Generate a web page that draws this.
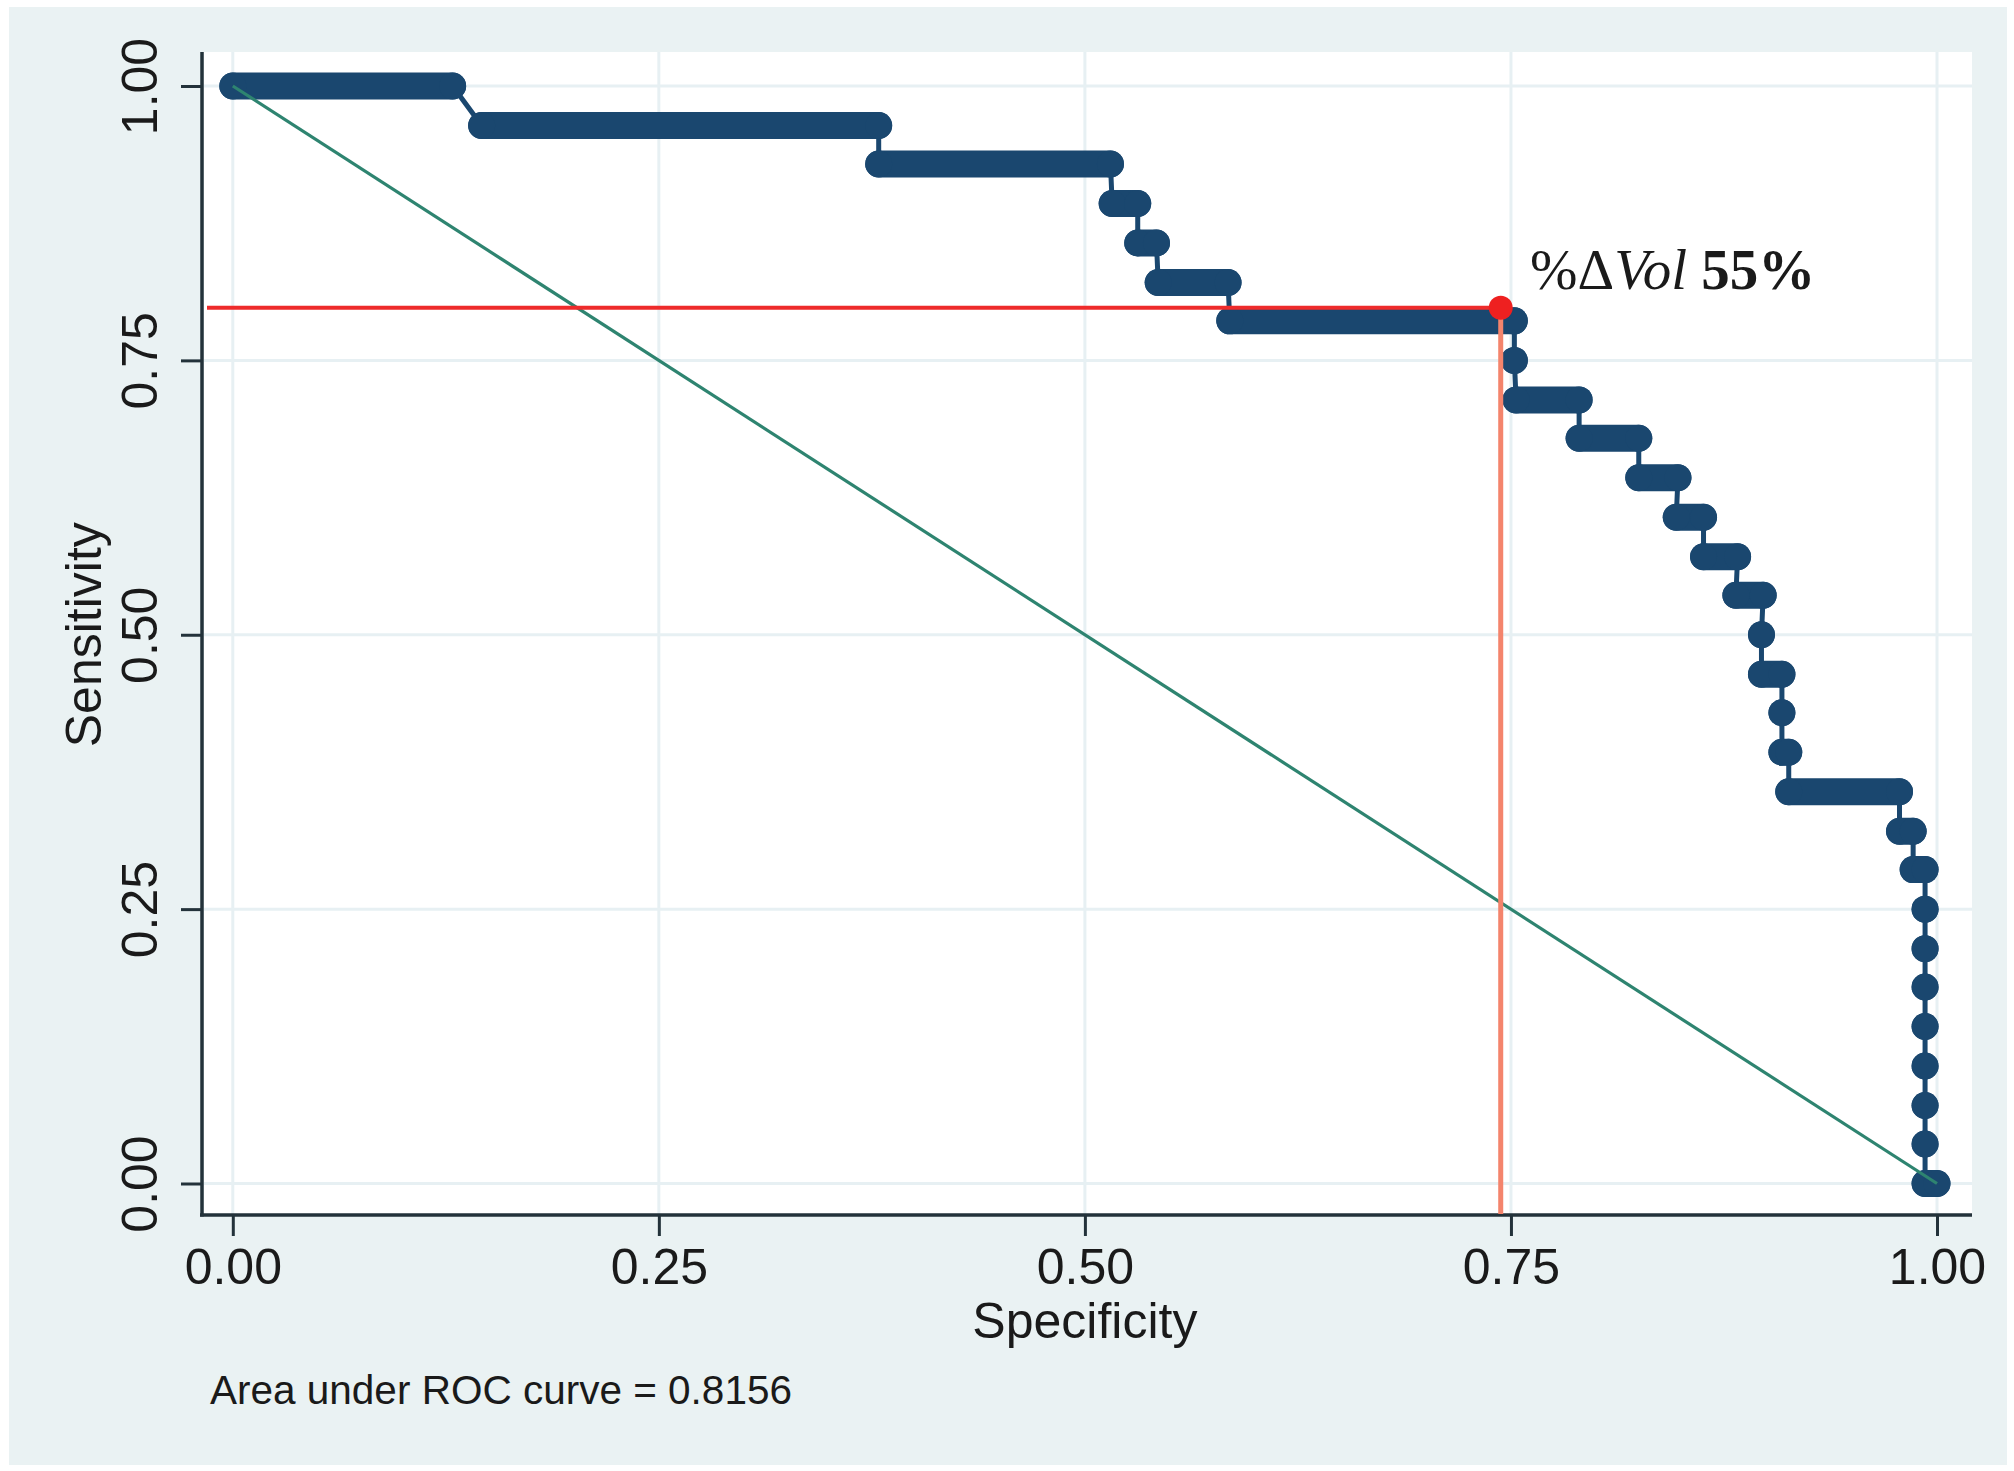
<!DOCTYPE html>
<html>
<head>
<meta charset="utf-8">
<script src="https://cdn.jsdelivr.net/npm/d3@7"></script>
<style>
  html, body { margin: 0; padding: 0; background: #ffffff; }
  svg { display: block; }
</style>
</head>
<body>
<div id="graphContainer"></div>
<script>
// ROC steps: one entry per sensitivity level,
// with the specificity where the run of markers starts and ends
const sensitivity = [
  1.0, 0.964, 0.929, 0.893, 0.857, 0.821, 0.786, 0.75, 0.714, 0.679,
  0.643, 0.607, 0.571, 0.536, 0.5, 0.464, 0.429, 0.393, 0.357, 0.321,
  0.286, 0.25, 0.214, 0.179, 0.143, 0.107, 0.071, 0.036, 0.0
];
const specFrom = [
  0.0, 0.146, 0.379, 0.516, 0.531, 0.543, 0.585, 0.752, 0.753, 0.79,
  0.825, 0.847, 0.863, 0.882, 0.897, 0.897, 0.909, 0.909, 0.913, 0.978,
  0.986, 0.993, 0.993, 0.993, 0.993, 0.993, 0.993, 0.993, 0.993
];
const specTo = [
  0.129, 0.379, 0.515, 0.531, 0.542, 0.584, 0.752, 0.752, 0.79, 0.825,
  0.848, 0.863, 0.883, 0.898, 0.897, 0.909, 0.909, 0.913, 0.978, 0.986,
  0.993, 0.993, 0.993, 0.993, 0.993, 0.993, 0.993, 0.993, 1.0
];

// reference (chance) line
const diagSpec = [0, 1];
const diagSens = [1, 0];

// optimal cut-off marked in red
const cutSpec = [0.744];
const cutSens = [0.798];

const tickValues = [0, 0.25, 0.5, 0.75, 1];
const aucText = 'Area under ROC curve = 0.8156';

const width = 2014;
const height = 1471;
const plotLeft = 204;
const plotRight = 1972;
const plotTop = 52;
const plotBottom = 1214;
const navy = '#1a476f';
const markerRadius = 13.5;
const sansFont = "'Liberation Sans', Arial, sans-serif";

const svg = d3
  .select('#graphContainer')
  .append('svg')
  .attr('width', width)
  .attr('height', height);

// graph region and plot region
svg
  .append('rect')
  .attr('x', 9)
  .attr('y', 7)
  .attr('width', 1998)
  .attr('height', 1458)
  .style('fill', '#eaf2f3');

svg
  .append('rect')
  .attr('x', plotLeft)
  .attr('y', plotTop)
  .attr('width', plotRight - plotLeft)
  .attr('height', plotBottom - plotTop)
  .style('fill', '#ffffff');

const xScale = d3
  .scaleLinear()
  .domain([0, 1])
  .range([232.8, 1937]);
const yScale = d3
  .scaleLinear()
  .domain([0, 1])
  .range([1183.5, 86]);

// grid
const grid = svg.append('g').style('stroke', '#e7f0f3').style('stroke-width', 3);
grid
  .selectAll('.hgrid')
  .data(tickValues)
  .join('line')
  .attr('class', 'hgrid')
  .attr('x1', plotLeft)
  .attr('x2', plotRight)
  .attr('y1', d => yScale(d))
  .attr('y2', d => yScale(d));
grid
  .selectAll('.vgrid')
  .data(tickValues)
  .join('line')
  .attr('class', 'vgrid')
  .attr('x1', d => xScale(d))
  .attr('x2', d => xScale(d))
  .attr('y1', plotTop)
  .attr('y2', plotBottom);

// axes
const yAxis = svg
  .append('g')
  .attr('transform', 'translate(202,0)')
  .call(
    d3
      .axisLeft(yScale)
      .tickValues(tickValues)
      .tickFormat(d3.format('.2f'))
      .tickSize(21)
      .tickSizeOuter(0)
  );
yAxis.select('.domain').remove();
yAxis
  .selectAll('.tick line')
  .style('stroke', '#23323a')
  .style('stroke-width', 3);
yAxis
  .selectAll('.tick text')
  .attr('x', 0)
  .attr('y', -45)
  .attr('dy', 0)
  .attr('transform', 'rotate(-90)')
  .attr('text-anchor', 'middle')
  .style('font-family', sansFont)
  .style('font-size', '50px')
  .style('fill', '#1a1a1a');

const xAxis = svg
  .append('g')
  .attr('transform', 'translate(0,1215)')
  .call(
    d3
      .axisBottom(xScale)
      .tickValues(tickValues)
      .tickFormat(d3.format('.2f'))
      .tickSize(21)
      .tickSizeOuter(0)
  );
xAxis.select('.domain').remove();
xAxis
  .selectAll('.tick line')
  .style('stroke', '#23323a')
  .style('stroke-width', 3);
xAxis
  .selectAll('.tick text')
  .attr('y', 69)
  .attr('dy', 0)
  .style('font-family', sansFont)
  .style('font-size', '50px')
  .style('fill', '#1a1a1a');

svg
  .append('line')
  .attr('x1', 202)
  .attr('x2', 202)
  .attr('y1', plotTop)
  .attr('y2', 1216.5)
  .style('stroke', '#23323a')
  .style('stroke-width', 3.5);
svg
  .append('line')
  .attr('x1', 200)
  .attr('x2', plotRight)
  .attr('y1', 1215)
  .attr('y2', 1215)
  .style('stroke', '#23323a')
  .style('stroke-width', 3.5);

// ROC curve: connecting line, runs of overlapping markers, markers
const vertices = [];
sensitivity.forEach((s, i) => {
  vertices.push([specFrom[i], s]);
  if (specTo[i] !== specFrom[i]) vertices.push([specTo[i], s]);
});

const roc = svg.append('g');
roc
  .append('path')
  .datum(vertices)
  .attr(
    'd',
    d3
      .line()
      .x(d => xScale(d[0]))
      .y(d => yScale(d[1]))
  )
  .style('fill', 'none')
  .style('stroke', navy)
  .style('stroke-width', 5);

roc
  .selectAll('.run')
  .data(sensitivity)
  .join('line')
  .attr('class', 'run')
  .attr('x1', (d, i) => xScale(specFrom[i]))
  .attr('x2', (d, i) => xScale(specTo[i]))
  .attr('y1', d => yScale(d))
  .attr('y2', d => yScale(d))
  .style('stroke', navy)
  .style('stroke-width', markerRadius * 2)
  .style('stroke-linecap', 'round');

roc
  .selectAll('circle')
  .data(vertices)
  .join('circle')
  .attr('cx', d => xScale(d[0]))
  .attr('cy', d => yScale(d[1]))
  .attr('r', markerRadius)
  .style('fill', navy);

// chance line
svg
  .append('path')
  .datum(diagSpec.map((d, i) => [d, diagSens[i]]))
  .attr(
    'd',
    d3
      .line()
      .x(d => xScale(d[0]))
      .y(d => yScale(d[1]))
  )
  .style('fill', 'none')
  .style('stroke', '#2e8470')
  .style('stroke-width', 3.2);

// cut-off guide lines and marker
svg
  .append('line')
  .attr('x1', 207)
  .attr('x2', xScale(cutSpec[0]))
  .attr('y1', yScale(cutSens[0]))
  .attr('y2', yScale(cutSens[0]))
  .style('stroke', '#ee2b2b')
  .style('stroke-width', 4);
svg
  .append('line')
  .attr('x1', xScale(cutSpec[0]))
  .attr('x2', xScale(cutSpec[0]))
  .attr('y1', yScale(cutSens[0]))
  .attr('y2', plotBottom)
  .style('stroke', '#f4846c')
  .style('stroke-width', 5);
svg
  .append('circle')
  .attr('cx', xScale(cutSpec[0]))
  .attr('cy', yScale(cutSens[0]))
  .attr('r', 12)
  .style('fill', '#ee2020');

const label = svg
  .append('text')
  .attr('x', 1530)
  .attr('y', 289)
  .style('font-family', "'Liberation Serif', 'DejaVu Serif', serif")
  .style('font-size', '57px')
  .style('fill', '#1a1a1a');
label.append('tspan').text('%Δ');
label.append('tspan').style('font-style', 'italic').text('Vol');
label.append('tspan').text(' ');
label.append('tspan').style('font-weight', 'bold').text('55%');

// titles
svg
  .append('text')
  .text('Specificity')
  .attr('x', xScale(0.5))
  .attr('y', 1338)
  .attr('text-anchor', 'middle')
  .style('font-family', sansFont)
  .style('font-size', '50px')
  .style('fill', '#1a1a1a');

svg
  .append('text')
  .text('Sensitivity')
  .attr('transform', 'translate(101,' + yScale(0.5) + ') rotate(-90)')
  .attr('text-anchor', 'middle')
  .style('font-family', sansFont)
  .style('font-size', '50px')
  .style('fill', '#1a1a1a');

svg
  .append('text')
  .text(aucText)
  .attr('x', 210)
  .attr('y', 1404)
  .style('font-family', sansFont)
  .style('font-size', '40.5px')
  .style('fill', '#1a1a1a');
</script>
</body>
</html>
